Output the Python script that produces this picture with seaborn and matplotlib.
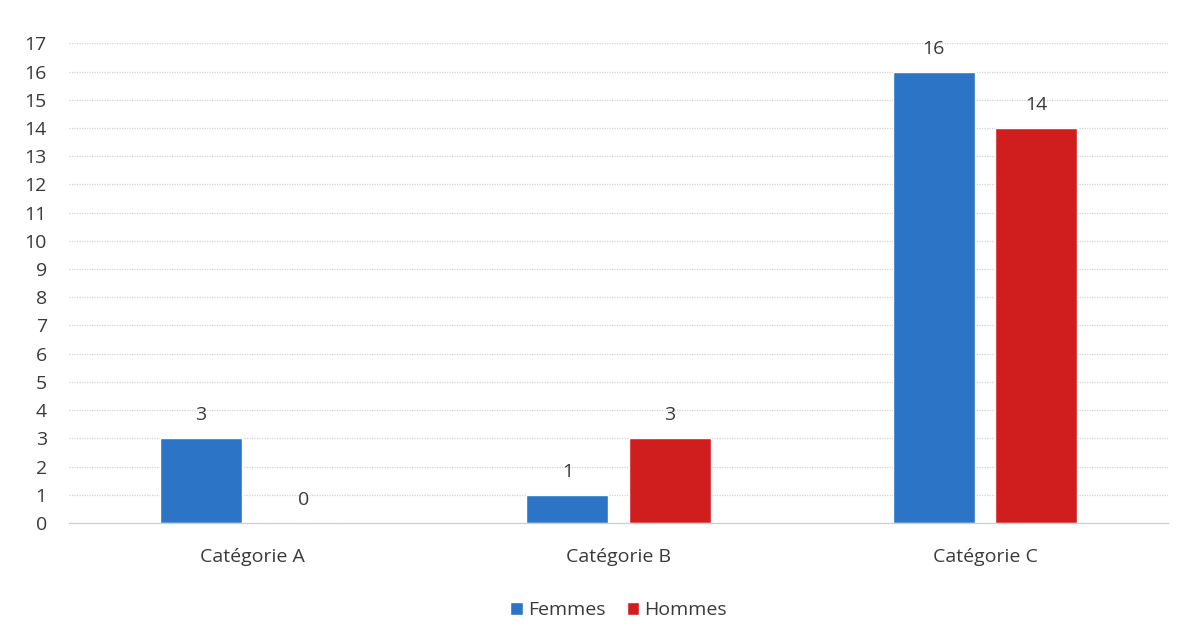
import matplotlib
matplotlib.use("Agg")
import matplotlib.pyplot as plt
import seaborn as sns
import pandas as pd

categories = ["Catégorie A", "Catégorie B", "Catégorie C"]
femmes = [3, 1, 16]
hommes = [0, 3, 14]
series_names = ["Femmes", "Hommes"]
y_ticks = list(range(0, 18))

df = pd.DataFrame({
    "categorie": categories * 2,
    "valeur": femmes + hommes,
    "sexe": [series_names[0]] * len(categories) + [series_names[1]] * len(categories),
})

sns.set_theme(style="white")
plt.rcParams["font.family"] = ["Open Sans", "DejaVu Sans"]
text_color = "#3a3a3a"

fig = plt.figure(figsize=(11.82, 6.37), dpi=100)
ax = fig.add_axes([0.0584, 0.179, 0.930, 0.753])

palette = {"Femmes": "#2b74c6", "Hommes": "#d01e1e"}
sns.barplot(data=df, x="categorie", y="valeur", hue="sexe", palette=palette,
            width=0.56, gap=0.2, saturation=1, ax=ax, legend=True)

ax.set_ylim(0, 17)
ax.set_yticks(y_ticks)
ax.set_xlim(-0.5, 2.5)
ax.yaxis.grid(True, color="#d2d2d2", linestyle=(0, (1, 1)), linewidth=0.9)
ax.set_axisbelow(True)
for s in ["top", "right", "left"]:
    ax.spines[s].set_visible(False)
ax.spines["bottom"].set_color("#cfcfcf")
ax.spines["bottom"].set_linewidth(0.9)
ax.set_xlabel("")
ax.set_ylabel("")
ax.tick_params(axis="both", length=0, labelsize=14, colors=text_color)
ax.tick_params(axis="y", pad=16)
ax.tick_params(axis="x", pad=18)

for container in ax.containers:
    ax.bar_label(container, fmt="%g", padding=10, fontsize=14, color=text_color)

leg = ax.legend(loc="upper center", bbox_to_anchor=(0.5, -0.126), ncol=2, frameon=False,
                fontsize=14, handlelength=0.65, handleheight=0.65, handletextpad=0.25,
                columnspacing=1.1)
for t in leg.get_texts():
    t.set_color(text_color)

fig.savefig("out.png", dpi=100, facecolor="white")
